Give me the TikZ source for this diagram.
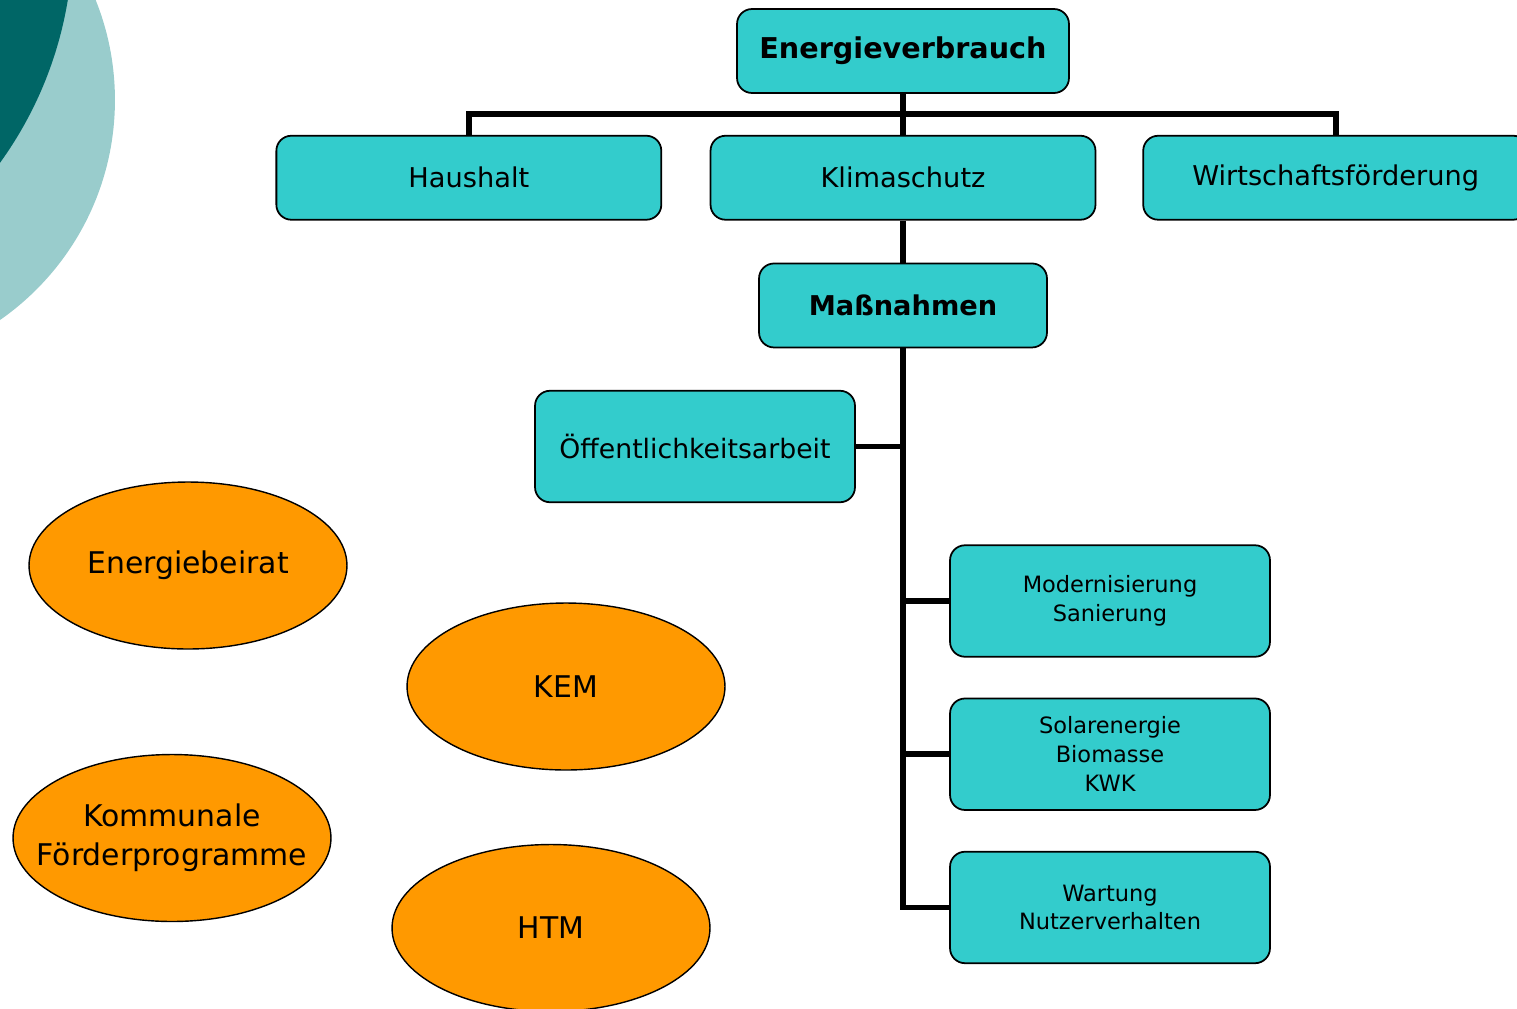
\documentclass[tikz,border=0pt]{standalone}
\usepackage{fontspec}
\setmainfont{DejaVu Sans}
\usetikzlibrary{positioning, shapes.geometric}
\definecolor{boxteal}{HTML}{33CCCC}
\definecolor{ovalorange}{HTML}{FF9900}
\definecolor{darkteal}{HTML}{006666}
\definecolor{paleteal}{HTML}{99CCCC}

\begin{document}
\begin{tikzpicture}[x=0.02cm, y=-0.02cm,
    box/.style={draw, line width=1pt, rounded corners=0.3cm, fill=boxteal,
      minimum width=7.7cm, minimum height=1.68cm, align=center,
      font=\fontsize{15.5}{19}\selectfont},
    subbox/.style={box, minimum width=6.4cm, minimum height=2.23cm,
      font=\fontsize{12.8}{16.4}\selectfont},
    oval/.style={ellipse, draw, line width=0.8pt, fill=ovalorange,
      minimum width=6.36cm, minimum height=3.34cm, inner sep=0pt},
    ovaltext/.style={align=center, font=\fontsize{17}{22}\selectfont},
    conn/.style={line width=3.2pt}]
    \useasboundingbox (0,0) rectangle (1517,1008);
    \clip (0,0) rectangle (1517,1008);
    % corner decoration
    \fill[paleteal] (-153,100) circle [radius=5.36cm];
    \fill[darkteal] (-313,-63) circle [radius=7.72cm];
    % top level
    \node [box, minimum width=6.64cm, font=\fontsize{16.3}{19}\selectfont\bfseries] (verbrauch) at (903,51) {Energieverbrauch};
    \node [box, below=0.82cm of verbrauch] (klima) {Klimaschutz};
    \node [box, left=0.95cm of klima] (haushalt) {Haushalt};
    \node [box, right=0.92cm of klima] (wirtschaft) {Wirtschaftsförderung};
    \node [box, minimum width=5.76cm, font=\fontsize{15.5}{19}\selectfont\bfseries, below=0.84cm of klima] (massnahmen) {Maßnahmen};
    % measures
    \node [subbox, font=\fontsize{15.2}{18}\selectfont] (oeffentlich) at (695,446.5) {Öffentlichkeitsarbeit};
    \node [subbox] (modern) at (1110,601) {Modernisierung\\Sanierung};
    \node [subbox, below=0.8cm of modern] (solar) {Solarenergie\\Biomasse\\KWK};
    \node [subbox, below=0.8cm of solar] (wartung) {Wartung\\Nutzerverhalten};
    % ovals
    \node [oval, label={[ovaltext]center:Energiebeirat}] (beirat) at (188,565.5) {};
    \node [oval, label={[ovaltext]center:KEM}] (kem) at (566,686.5) {};
    \node [oval, label={[ovaltext]center:Kommunale\\Förderprogramme}] (foerder) at (172,838) {};
    \node [oval, label={[ovaltext]center:HTM}] (htm) at (551,928) {};
    % connectors
    \coordinate (bus) at (903,114);
    \draw [conn] (verbrauch.south) -- (klima.north);
    \draw [conn] (haushalt.north) |- (bus) -| (wirtschaft.north);
    \draw [conn] (klima.south) -- (massnahmen.north);
    \draw [conn] (massnahmen.south) |- (wartung.west);
    \draw [conn] (oeffentlich.east) -- (oeffentlich.east -| massnahmen.south);
    \draw [conn] (modern.west) -- (modern.west -| massnahmen.south);
    \draw [conn] (solar.west) -- (solar.west -| massnahmen.south);
\end{tikzpicture}
\end{document}
